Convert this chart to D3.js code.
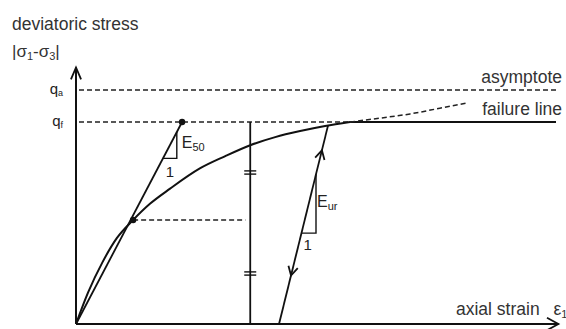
<!DOCTYPE html>
<html>
<head>
<meta charset="utf-8">
<script src="https://cdn.jsdelivr.net/npm/d3@7"></script>
<style>
  html, body { margin: 0; padding: 0; background: #fff; }
  svg { display: block; font-family: "Liberation Sans", Arial, sans-serif; }
</style>
</head>
<body>
<div id="chart"></div>
<script>
// hyperbolic stress-strain curve (qf = 100)
var curveStrain = [0, 2.5, 5.5, 8.5, 11.9, 15.4, 19.6, 25.8, 31.0, 36.3, 41.5, 46.7, 51.9, 57.1]
var curveStress = [0, 15.5, 30.5, 42.5, 51.5, 59.5, 67.0, 77.0, 83.0, 88.5, 92.5, 95.5, 98.0, 100]
// dashed continuation towards the asymptote
var extStrain = [57.1, 63.3, 69.6, 75.8, 81.7]
var extStress = [100, 101.9, 104.0, 106.8, 109.5]
var failureEnd = 100

var levelNames = ["a", "f"]
var levelValues = [115.8, 100]
var levelLabels = ["asymptote", "failure line"]

// secant E50: half stress point and point at qf
var e50Strain = [11.9, 22.1]
var e50Stress = [51.5, 100]

// unloading / reloading branch
var urStrain = [42.3, 52.5]
var urStress = [0, 98.2]

// vertical check line with equal-length marks
var checkStrain = 36.3
var checkMarks = [25, 75]
var axisTop = 127
var axisRight = 100.5

var width = 566
var height = 329
var x, y, svg

function setUp() {
  x = d3.scaleLinear().domain([0, 100]).range([76, 556])
  y = d3.scaleLinear().domain([0, 100]).range([324, 122])

  svg = d3.select("#chart").append("svg")
    .attr("width", width)
    .attr("height", height)
    .attr("viewBox", [0, 0, width, height])
}

function chevron(g, px, py, ang, len, spread) {
  // ang = direction the tip points to (radians)
  var a1 = ang + Math.PI - spread, a2 = ang + Math.PI + spread
  g.append("path")
    .attr("d", `M${px + len * Math.cos(a1)},${py + len * Math.sin(a1)}L${px},${py}L${px + len * Math.cos(a2)},${py + len * Math.sin(a2)}`)
    .attr("fill", "none")
    .attr("stroke", "#111")
    .attr("stroke-width", 1.8)
}

function drawAxes() {
  var g = svg.append("g")
  g.append("line")
    .attr("x1", x(0)).attr("y1", y(0))
    .attr("x2", x(0)).attr("y2", y(axisTop))
    .attr("stroke", "#111").attr("stroke-width", 2)
  g.append("line")
    .attr("x1", x(0)).attr("y1", y(0))
    .attr("x2", x(axisRight)).attr("y2", y(0))
    .attr("stroke", "#111").attr("stroke-width", 2)
  chevron(g, x(0), y(axisTop), -Math.PI / 2, 13, 0.4)
  chevron(g, x(axisRight), y(0), 0, 13, 0.5)

  // axis titles
  g.append("text").attr("x", 12).attr("y", 30)
    .attr("font-size", 17.5).attr("fill", "#333")
    .text("deviatoric stress")
  var t = g.append("text").attr("x", 12).attr("y", 57)
    .attr("font-size", 17).attr("fill", "#333")
  t.append("tspan").text("|σ")
  t.append("tspan").attr("font-size", 11).attr("dy", 3).text("1")
  t.append("tspan").attr("dy", -3).text("-σ")
  t.append("tspan").attr("font-size", 11).attr("dy", 3).text("3")
  t.append("tspan").attr("dy", -3).text("|")

  var s = g.append("text").attr("x", 456).attr("y", 315)
    .attr("font-size", 17.5).attr("fill", "#333")
  s.append("tspan").text("axial strain ")
  s.append("tspan").attr("dx", 9).text("ε")
  s.append("tspan").attr("font-size", 11).attr("dy", 3).text("1")
}

function drawLevels() {
  var g = svg.append("g")
  g.selectAll("line")
    .data(levelValues)
    .join("line")
      .attr("x1", x(0) + 3)
      .attr("x2", x(100.5))
      .attr("y1", d => y(d))
      .attr("y2", d => y(d))
      .attr("stroke", "#222")
      .attr("stroke-width", 1.5)
      .attr("stroke-dasharray", "5,3")

  var q = g.selectAll(".q")
    .data(levelValues)
    .join("text")
      .attr("class", "q")
      .attr("x", x(0) - 13)
      .attr("y", d => y(d) + 4)
      .attr("text-anchor", "end")
      .attr("font-size", 15)
      .attr("fill", "#222")
  q.append("tspan").text("q")
  q.append("tspan").attr("font-size", 9).attr("dy", 2).text((d, i) => levelNames[i])

  g.selectAll(".lab")
    .data(levelValues)
    .join("text")
      .attr("class", "lab")
      .attr("x", 562)
      .attr("y", d => y(d) - 7)
      .attr("text-anchor", "end")
      .attr("font-size", 17.5)
      .attr("fill", "#333")
      .text((d, i) => levelLabels[i])
}

function drawCurve() {
  var line = d3.line()
    .x(d => x(d[0]))
    .y(d => y(d[1]))
    .curve(d3.curveMonotoneX)

  svg.append("path")
    .datum(curveStrain.map((e, i) => [e, curveStress[i]]))
    .attr("d", line)
    .attr("fill", "none")
    .attr("stroke", "#111")
    .attr("stroke-width", 2)

  svg.append("path")
    .datum([[curveStrain[curveStrain.length - 1], 100], [failureEnd, 100]])
    .attr("d", line)
    .attr("fill", "none")
    .attr("stroke", "#111")
    .attr("stroke-width", 2)

  svg.append("path")
    .datum(extStrain.map((e, i) => [e, extStress[i]]))
    .attr("d", line)
    .attr("fill", "none")
    .attr("stroke", "#222")
    .attr("stroke-width", 1.5)
    .attr("stroke-dasharray", "5,3")
}

function drawE50() {
  var g = svg.append("g")
  g.append("line")
    .attr("x1", x(0)).attr("y1", y(0))
    .attr("x2", x(e50Strain[1])).attr("y2", y(e50Stress[1]))
    .attr("stroke", "#111").attr("stroke-width", 1.8)

  // half stress dashed line
  g.append("line")
    .attr("x1", x(e50Strain[0])).attr("x2", x(checkStrain - 1))
    .attr("y1", y(e50Stress[0])).attr("y2", y(e50Stress[0]))
    .attr("stroke", "#222").attr("stroke-width", 1.5)
    .attr("stroke-dasharray", "5,3")

  g.selectAll("circle")
    .data(e50Strain)
    .join("circle")
      .attr("cx", d => x(d))
      .attr("cy", (d, i) => y(e50Stress[i]))
      .attr("r", 3.2)
      .attr("fill", "#111")

  // slope triangle
  var slope = e50Stress[1] / e50Strain[1]
  var qb = 82, e1 = 21
  var e0 = qb / slope
  g.append("path")
    .attr("d", `M${x(e0)},${y(qb)}L${x(e1)},${y(qb)}L${x(e1)},${y(e1 * slope)}`)
    .attr("fill", "none").attr("stroke", "#111").attr("stroke-width", 1.4)

  var t = g.append("text").attr("x", x(e1) + 5).attr("y", y(qb) - 10)
    .attr("font-size", 16).attr("fill", "#222")
  t.append("tspan").text("E")
  t.append("tspan").attr("font-size", 11).attr("dy", 3).text("50")
  g.append("text").attr("x", x(e1) - 11).attr("y", y(qb) + 19)
    .attr("font-size", 15).attr("fill", "#222").text("1")
}

function drawCheck() {
  var g = svg.append("g")
  g.append("line")
    .attr("x1", x(checkStrain)).attr("x2", x(checkStrain))
    .attr("y1", y(0)).attr("y2", y(100))
    .attr("stroke", "#111").attr("stroke-width", 1.8)
  checkMarks.forEach(m => {
    [-1.6, 1.6].forEach(o => {
      g.append("line")
        .attr("x1", x(checkStrain) - 6).attr("x2", x(checkStrain) + 6)
        .attr("y1", y(m) + o).attr("y2", y(m) + o)
        .attr("stroke", "#111").attr("stroke-width", 1.4)
    })
  })
}

function drawUR() {
  var g = svg.append("g")
  g.append("line")
    .attr("x1", x(urStrain[0])).attr("y1", y(urStress[0]))
    .attr("x2", x(urStrain[1])).attr("y2", y(urStress[1]))
    .attr("stroke", "#111").attr("stroke-width", 1.8)

  var at = q => urStrain[0] + (urStrain[1] - urStrain[0]) * (q - urStress[0]) / (urStress[1] - urStress[0])
  var ang = Math.atan2(y(urStress[1]) - y(urStress[0]), x(urStrain[1]) - x(urStrain[0]))
  chevron(g, x(at(86)), y(86), ang, 10, 0.5)
  chevron(g, x(at(24)), y(24), ang + Math.PI, 10, 0.5)

  // slope triangle
  var qb = 45, e1 = 50
  var qt = urStress[0] + (e1 - urStrain[0]) * (urStress[1] - urStress[0]) / (urStrain[1] - urStrain[0])
  g.append("path")
    .attr("d", `M${x(at(qb))},${y(qb)}L${x(e1)},${y(qb)}L${x(e1)},${y(qt)}`)
    .attr("fill", "none").attr("stroke", "#111").attr("stroke-width", 1.4)

  var t = g.append("text").attr("x", x(e1) + 1).attr("y", y(qb) - 26)
    .attr("font-size", 16).attr("fill", "#222")
  t.append("tspan").text("E")
  t.append("tspan").attr("font-size", 11).attr("dy", 3).text("ur")
  g.append("text").attr("x", x(at(qb)) + 2).attr("y", y(qb) + 17)
    .attr("font-size", 15).attr("fill", "#222").text("1")
}

setUp()
drawLevels()
drawCurve()
drawE50()
drawCheck()
drawUR()
drawAxes()
</script>
</body>
</html>
